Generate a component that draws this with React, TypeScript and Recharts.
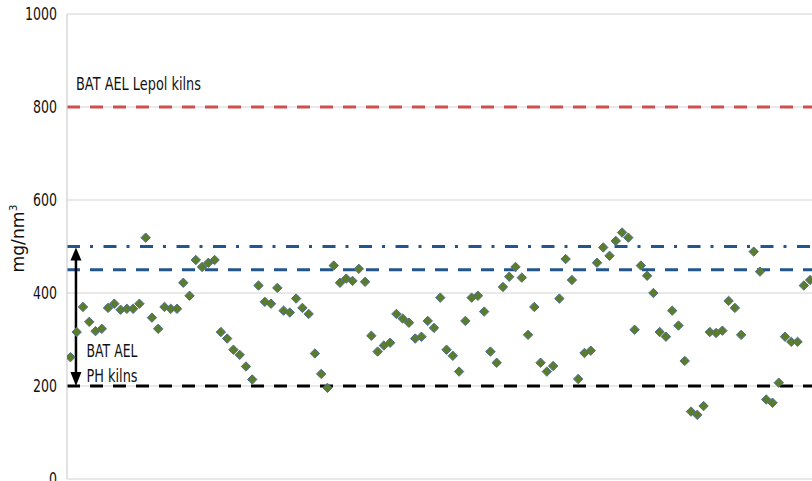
import React from 'react';
import {
  ScatterChart,
  Scatter,
  XAxis,
  YAxis,
  CartesianGrid,
  ReferenceLine,
} from 'recharts';

// Measured concentrations, one per sample in sequence (null = no reading)
const readings: (number | null)[] = [
  262, 316, 370, 338, 318, 323, 368, 377, 364, 366,
  366, 377, 519, 347, 323, 370, 366, 366, 422, 394,
  471, 456, 465, 471, 316, 302, 278, 267, 242, 214,
  416, 381, 377, 411, 362, 358, 388, 368, 355, 270,
  226, 196, 459, 422, 431, 426, 452, 424, 308, 274,
  287, 293, 355, 345, 336, 302, 306, 340, 325, 390,
  278, 265, 231, 340, 390, 394, 360, 274, 250, 413,
  435, 456, 433, 310, 370, 250, 231, 243, 388, 473,
  428, 215, 271, 276, 465, 498, 480, 512, 530, 519,
  321, 459, 437, 400, 316, 306, 362, 330, 254, 145,
  138, 157, 316, 314, 319, 383, 368, 310, null, 489,
  446, 171, 164, 207, 306, 295, 295, 416, 428,
];

const yTicks = [0, 200, 400, 600, 800, 1000];

// Emission limit levels
const lepolLimit = 800;
const phUpper = 500;
const phMid = 450;
const phLower = 200;

const lepolLabel = 'BAT AEL Lepol kilns';
const phLabel = ['BAT AEL', 'PH kilns'];
const unitLabel = 'mg/nm';

const points = readings
  .map((v, i) => ({ i, v }))
  .filter((p) => p.v !== null) as { i: number; v: number }[];

const FONT = '"DejaVu Sans", sans-serif';
const INK = '#111';

// Narrow text: glyphs are squeezed to a target run length
const NarrowText = ({ x, y, width, size = 17, anchor = 'start', children }: any) => (
  <text
    x={x}
    y={y}
    fontFamily={FONT}
    fontSize={size}
    fill={INK}
    textAnchor={anchor}
    textLength={width}
    lengthAdjust="spacingAndGlyphs"
  >
    {children}
  </text>
);

const YTick = (props: any) => {
  const { x, y, payload } = props;
  const s = String(payload.value);
  return (
    <NarrowText x={x} y={y + 6} width={s.length * 8} anchor="end">
      {s}
    </NarrowText>
  );
};

const Diamond = (props: any) => {
  const { cx, cy } = props;
  if (cx == null || cy == null) return null;
  const r = 4.7;
  return (
    <polygon
      points={`${cx},${cy - r} ${cx + r},${cy} ${cx},${cy + r} ${cx - r},${cy}`}
      fill="#5b7c2b"
      stroke="#4d6f8f"
      strokeWidth={1}
    />
  );
};

const DoubleArrow = (props: any) => {
  const { x1, y1, x2, y2 } = props;
  const x = x1;
  const top = Math.min(y1, y2);
  const bottom = Math.max(y1, y2);
  const hw = 5.5;
  const hh = 14;
  return (
    <g>
      <line x1={x} y1={top + hh - 1} x2={x2} y2={bottom - hh + 1} stroke="#000" strokeWidth={2.5} />
      <polygon points={`${x},${top + 1} ${x + hw},${top + hh} ${x - hw},${top + hh}`} fill="#000" />
      <polygon points={`${x},${bottom} ${x + hw},${bottom - hh} ${x - hw},${bottom - hh}`} fill="#000" />
    </g>
  );
};

const LepolLabel = (props: any) => {
  const vb = props.viewBox || {};
  return (
    <NarrowText x={vb.x + 9} y={vb.y - 17} width={125}>
      {lepolLabel}
    </NarrowText>
  );
};

const PhLabel = (props: any) => {
  const vb = props.viewBox || {};
  return (
    <g>
      <NarrowText x={vb.x + 19.5} y={vb.y - 29.5} width={51}>{phLabel[0]}</NarrowText>
      <NarrowText x={vb.x + 19.5} y={vb.y - 4.5} width={51}>{phLabel[1]}</NarrowText>
    </g>
  );
};

const UnitLabel = (props: any) => {
  const vb = props.viewBox || {};
  const x = vb.x + 24;
  const y = vb.y + vb.height / 2 - 9;
  return (
    <g transform={`rotate(-90, ${x}, ${y})`}>
      <text
        x={x - 35}
        y={y}
        fontFamily={FONT}
        fontSize={17}
        fill={INK}
        textLength={61}
        lengthAdjust="spacingAndGlyphs"
      >
        {unitLabel}
      </text>
      <text x={x + 26.5} y={y - 7} fontFamily={FONT} fontSize={10} fill={INK}>
        3
      </text>
    </g>
  );
};

export default function App() {
  return (
    <div style={{ position: 'absolute', left: 0, top: 0, width: 812, height: 481, overflow: 'hidden', background: '#fff' }}>
      <ScatterChart width={812} height={481} margin={{ top: 14, right: 0, bottom: 2, left: 0 }}>
        <CartesianGrid vertical={false} stroke="#d4d4d4" strokeWidth={1.2} />
        <XAxis type="number" dataKey="i" domain={[-0.55, 118.3]} allowDataOverflow hide />
        <YAxis
          type="number"
          dataKey="v"
          domain={[0, 1000]}
          ticks={yTicks}
          interval={0}
          width={67}
          axisLine={{ stroke: '#cfcfcf', strokeWidth: 1.2 }}
          tickLine={false}
          tickSize={6}
          tickMargin={4}
          tick={<YTick />}
          label={<UnitLabel />}
        />
        <ReferenceLine
          y={lepolLimit}
          stroke="#cf4f4f"
          strokeWidth={3}
          strokeDasharray="13 10"
          label={<LepolLabel />}
        />
        <ReferenceLine y={phUpper} stroke="#24568e" strokeWidth={3} strokeDasharray="13 10 3 10.5" />
        <ReferenceLine y={phMid} stroke="#24568e" strokeWidth={3} strokeDasharray="13 10" />
        <ReferenceLine
          y={phLower}
          stroke="#000"
          strokeWidth={3}
          strokeDasharray="13 10"
          label={<PhLabel />}
        />
        <ReferenceLine
          segment={[
            { x: 0.88, y: phUpper },
            { x: 0.88, y: phLower },
          ]}
          shape={<DoubleArrow />}
        />
        <Scatter data={points} dataKey="v" shape={<Diamond />} isAnimationActive={false} />
      </ScatterChart>
    </div>
  );
}
